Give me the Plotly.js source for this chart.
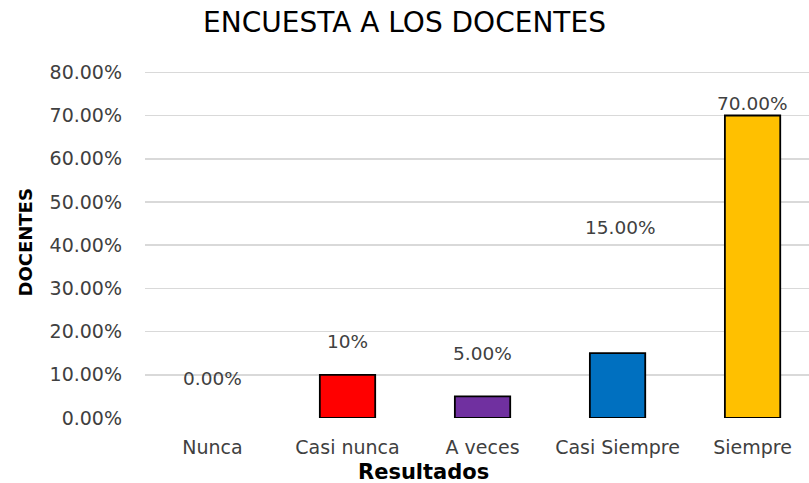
<!DOCTYPE html>
<html>
<head>
<meta charset="utf-8">
<script src="https://cdn.plot.ly/plotly-3.0.1.min.js"></script>
<style>html,body{margin:0;padding:0;background:#fff;}#chart{width:809px;height:483px;}</style>
</head>
<body>
<div id="chart"></div>
<script>
const categories = ["Nunca", "Casi nunca", "A veces", "Casi Siempre", "Siempre"];
const values = [0, 10, 5, 15, 70];
const valueLabels = ["0.00%", "10%", "5.00%", "15.00%", "70.00%"];
const yTickVals = [0, 10, 20, 30, 40, 50, 60, 70, 80];
const yTickText = ["0.00%", "10.00%", "20.00%", "30.00%", "40.00%", "50.00%", "60.00%", "70.00%", "80.00%"];

// styles
const barColors = ["#A5A5A5", "#FF0000", "#7030A0", "#0070C0", "#FFC000"];
const lineWidths = [0, 1.8, 1.8, 1.8, 1.8];
const labelYShift = [40, 33, 43, 126, 12];
const labelXShift = [0, 0, 0, 3, 0];
const txtColor = "#404040";

const annotations = categories.map((c, i) => ({
  x: c, y: values[i], xref: "x", yref: "y",
  text: valueLabels[i], showarrow: false,
  yanchor: "middle", xanchor: "center",
  yshift: labelYShift[i], xshift: labelXShift[i],
  font: {family: "DejaVu Sans", size: 18.5, color: txtColor}
}));
annotations.push({
  xref: "paper", yref: "paper", x: -0.1807, y: 0.5058,
  xanchor: "center", yanchor: "middle", textangle: -90, showarrow: false,
  text: "<b>DOCENTES</b>",
  font: {family: "DejaVu Sans", size: 18, color: "#000"}
});
annotations.push({
  xref: "paper", yref: "paper", x: 0.4187, y: -0.156,
  xanchor: "center", yanchor: "middle", showarrow: false,
  text: "<b>Resultados</b>",
  font: {family: "DejaVu Sans", size: 21, color: "#000"}
});

const trace = {
  type: "bar",
  x: categories,
  y: values,
  width: 0.41,
  marker: {color: barColors, line: {color: "#000", width: lineWidths}},
  hoverinfo: "skip"
};

const layout = {
  width: 809, height: 483,
  margin: {l: 145, r: 0, t: 71, b: 65},
  paper_bgcolor: "#fff", plot_bgcolor: "#fff",
  showlegend: false,
  title: {
    text: "ENCUESTA A LOS DOCENTES",
    xref: "container", yref: "container", x: 0.5, y: 0.954,
    xanchor: "center", yanchor: "middle",
    font: {family: "DejaVu Sans", size: 28, color: "#000"}
  },
  xaxis: {
    type: "category", range: [-0.5, 4.418],
    showgrid: false, zeroline: false, showline: false, ticks: "",
    tickfont: {family: "DejaVu Sans", size: 19, color: txtColor},
    ticklabelstandoff: 16, fixedrange: true
  },
  yaxis: {
    range: [0, 80.3], tickvals: yTickVals, ticktext: yTickText,
    showgrid: true, gridcolor: "#D9D9D9", gridwidth: 1.6,
    zeroline: false, showline: false, ticks: "",
    tickfont: {family: "DejaVu Sans", size: 19, color: txtColor},
    ticklabelstandoff: 22, fixedrange: true
  },
  annotations: annotations
};

Plotly.newPlot("chart", [trace], layout, {displayModeBar: false, staticPlot: true});
</script>
</body>
</html>
